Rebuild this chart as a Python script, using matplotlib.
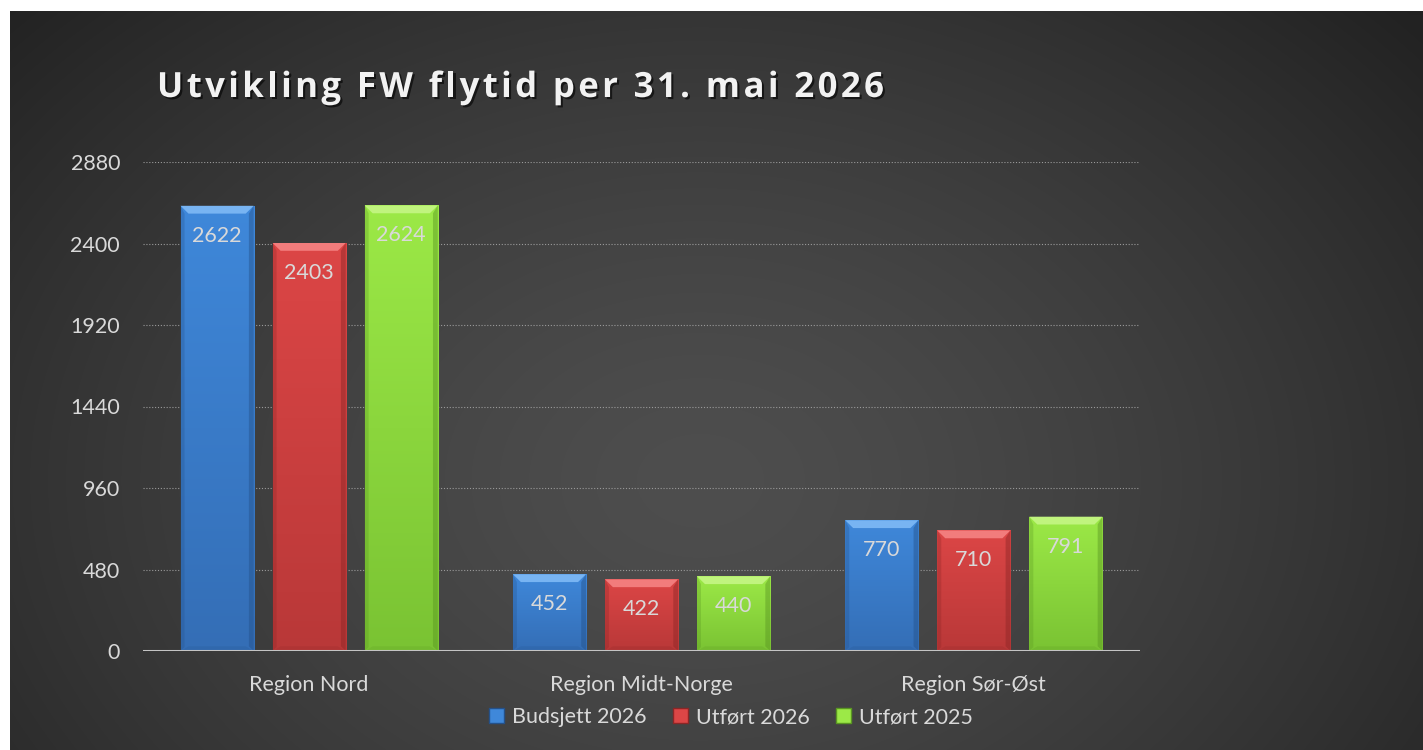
"""Utvikling FW flytid per 31. mai 2026 — grouped bar chart on dark gradient."""

import matplotlib
matplotlib.use("Agg")
import matplotlib.pyplot as plt
import matplotlib.patheffects as pe
from matplotlib.colors import LinearSegmentedColormap
from matplotlib.patches import Polygon, Patch
import numpy as np

plt.rcParams["font.family"] = ["Lato", "DejaVu Sans"]

# --- data -----------------------------------------------------------------
title = "Utvikling FW flytid per 31. mai 2026"
regions = ["Region Nord", "Region Midt-Norge", "Region Sør-Øst"]
series = ["Budsjett 2026", "Utført 2026", "Utført 2025"]
budsjett_2026 = [2622, 452, 770]
utfort_2026 = [2403, 422, 710]
utfort_2025 = [2624, 440, 791]
yticks = [0, 480, 960, 1440, 1920, 2400, 2880]

# (top, bottom, bevel-light, edge-dark)
palette = {
    "Budsjett 2026": ("#3f88da", "#346eb6", "#78b4f2", "#24518a"),
    "Utført 2026": ("#dc4646", "#b93838", "#f27c7c", "#8c2626"),
    "Utført 2025": ("#9ce947", "#7ac333", "#c0f47e", "#5a9622"),
}
TXT = "#d9d9d9"
FS = 15.5

W, H = 1423, 750
fig = plt.figure(figsize=(W / 100, H / 100), dpi=100, facecolor="white")

# dark radial-ish background panel
bg = fig.add_axes([10 / W, 0, 1 - 10 / W, 1 - 11 / H])
bg.set_axis_off()
yy, xx = np.mgrid[0:740, 0:1413]
d = np.sqrt(((xx - 690) / 760) ** 2 + ((yy - 470) / 560) ** 2)
t = np.clip(d / 1.25, 0, 1) ** 1.4
lo, hi = 0x4e / 255, 0x22 / 255
g = lo + (hi - lo) * t
bg.imshow(np.dstack([g, g, g]), aspect="auto", extent=[0, 1, 0, 1],
          interpolation="bilinear")
bg.set_xlim(0, 1)
bg.set_ylim(0, 1)

ax = fig.add_axes([143 / W, 99 / H, (1140 - 143) / W, (651 - 162) / H])
ax.patch.set_alpha(0)
for s in ax.spines.values():
    s.set_visible(False)

x = np.arange(len(regions))
width = 0.22
offsets = [-0.277, 0.0, 0.277]
values = [budsjett_2026, utfort_2026, utfort_2025]

ax.set_yticks(yticks)
ax.set_xticks(x)
ax.set_xticklabels(regions)
ax.tick_params(axis="both", length=0, colors=TXT, labelsize=FS)
ax.tick_params(axis="y", pad=16.5)
ax.tick_params(axis="x", pad=17)
ax.yaxis.grid(True, color="#9a9a9a", linestyle=(0, (1, 1.6)), linewidth=0.8)
ax.set_axisbelow(True)
ax.axhline(0, color="#c4c4c4", linewidth=2.2, zorder=5)

bx = 0.024          # bevel size, x data units
by = 46             # bevel size, y data units

for name, off, vals in zip(series, offsets, values):
    top, bot, light, dark = palette[name]
    cmap = LinearSegmentedColormap.from_list(name, [bot, top])
    bars = ax.bar(x + off, vals, width, color="none", edgecolor="none",
                  zorder=2)
    for rect, v in zip(bars, vals):
        x0, x1 = rect.get_x(), rect.get_x() + rect.get_width()
        grad = np.linspace(0, 1, 256).reshape(-1, 1)
        im = ax.imshow(grad, cmap=cmap, aspect="auto", origin="lower",
                       extent=[x0, x1, 0, v], zorder=2)
        im.set_clip_path(rect)
        # bevels
        ax.add_patch(Polygon([(x0, v), (x1, v), (x1 - bx, v - by),
                              (x0 + bx, v - by)], closed=True,
                             facecolor=light, edgecolor="none", zorder=3))
        ax.add_patch(Polygon([(x1, v), (x1, 0), (x1 - bx * 0.6, by * 0.6),
                              (x1 - bx * 0.6, v - by)], closed=True,
                             facecolor=dark, alpha=0.45, edgecolor="none",
                             zorder=3))
        ax.add_patch(Polygon([(x0, v), (x0, 0), (x0 + bx * 0.5, by * 0.5),
                              (x0 + bx * 0.5, v - by)], closed=True,
                             facecolor=dark, alpha=0.3, edgecolor="none",
                             zorder=3))
        ax.add_patch(Polygon([(x0, 0), (x1, 0), (x1 - bx, by * 0.6),
                              (x0 + bx, by * 0.6)], closed=True,
                             facecolor=dark, alpha=0.2, edgecolor="none",
                             zorder=3))
        ax.annotate(f"{v}", (rect.get_x() + rect.get_width() / 2, v),
                    xytext=(0, -21.5), textcoords="offset points",
                    ha="center", va="center", color=TXT, fontsize=FS,
                    zorder=4)

ax.set_xlim(-0.5, len(regions) - 0.5)
ax.set_ylim(0, yticks[-1])

handles = [Patch(facecolor=palette[s][0], edgecolor=palette[s][3])
           for s in series]
leg = fig.legend(handles, series, loc="center", bbox_to_anchor=(731 / W, 33 / H),
                 ncol=3, frameon=False, fontsize=FS, handlelength=0.7,
                 handleheight=0.7, handletextpad=0.35, columnspacing=1.25)
for txt in leg.get_texts():
    txt.set_color(TXT)

# title with letter spacing (Office-style tracking)
title_kw = dict(fontsize=25, fontweight="bold", color="#f2f2f2",
                family=["Open Sans", "DejaVu Sans"], ha="left", va="center",
                path_effects=[pe.withSimplePatchShadow(offset=(1.5, -1.5),
                                                       shadow_rgbFace="black",
                                                       alpha=0.6)])
renderer = fig.canvas.get_renderer()


def text_width(s):
    tmp = fig.text(0, 0, s + "|", **title_kw)
    bar = fig.text(0, 0, "|", **title_kw)
    w = (tmp.get_window_extent(renderer).width
         - bar.get_window_extent(renderer).width)
    tmp.remove()
    bar.remove()
    return w


x_start, x_end, y_title = 157, 884, 1 - 88 / H
full = text_width(title[:-1])
last = text_width(title) - full
track = (x_end - x_start - full - last) / (len(title) - 1)
for i, ch in enumerate(title):
    if ch == " ":
        continue
    px = x_start + (text_width(title[:i]) if i else 0) + i * track
    fig.text(px / W, y_title, ch, **title_kw)

fig.savefig("out.png", dpi=100, facecolor="white")
